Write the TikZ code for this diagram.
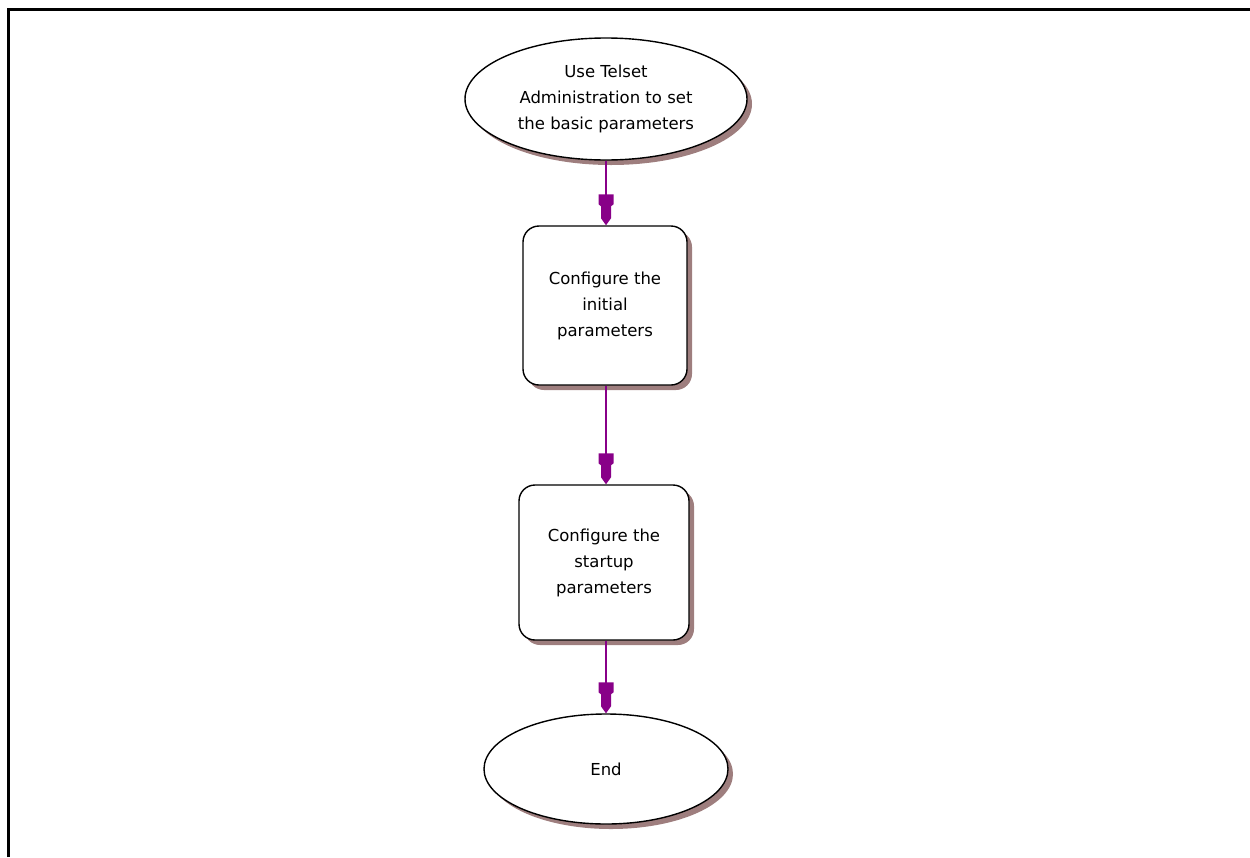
\documentclass[tikz,border=0pt]{standalone}
\usepackage{fontspec}
\setmainfont{DejaVu Sans}
\usetikzlibrary{shapes.geometric,arrows.meta,shadows}
\definecolor{shadowc}{HTML}{9E7E7E}
\definecolor{connc}{HTML}{880088}
\pgfdeclarearrow{
  name = flowtip,
  setup code = {
    \pgfarrowssettipend{0pt}
    \pgfarrowssetlineend{-20pt}
    \pgfarrowssetbackend{-31pt}
    \pgfarrowshullpoint{0pt}{0pt}
    \pgfarrowshullpoint{-31pt}{7.5pt}
    \pgfarrowshullpoint{-31pt}{-7.5pt}
  },
  drawing code = {
    \pgfpathmoveto{\pgfpoint{0pt}{0pt}}
    \pgfpathlineto{\pgfpoint{-7pt}{5pt}}
    \pgfpathlineto{\pgfpoint{-19pt}{5pt}}
    \pgfpathlineto{\pgfpoint{-21pt}{7.5pt}}
    \pgfpathlineto{\pgfpoint{-31pt}{7.5pt}}
    \pgfpathlineto{\pgfpoint{-31pt}{-7.5pt}}
    \pgfpathlineto{\pgfpoint{-21pt}{-7.5pt}}
    \pgfpathlineto{\pgfpoint{-19pt}{-5pt}}
    \pgfpathlineto{\pgfpoint{-7pt}{-5pt}}
    \pgfpathclose
    \pgfusepathqfill
  }
}
\begin{document}
\begin{tikzpicture}[x=1pt,y=-1pt,
  txt/.style={font=\fontsize{16.5}{26}\selectfont,align=center,text=black},
  oval/.style={ellipse,draw=black,line width=1.4pt,fill=white,inner sep=0pt,
    drop shadow={shadow xshift=5pt,shadow yshift=-5pt,fill=shadowc,opacity=1}},
  boxn/.style={rectangle,rounded corners=16pt,draw=black,line width=1.4pt,fill=white,inner sep=0pt,
    drop shadow={shadow xshift=5pt,shadow yshift=-5pt,fill=shadowc,opacity=1}},
  conn/.style={draw=connc,fill=connc,line width=2pt,-flowtip}
]
\useasboundingbox (0,0) rectangle (1250,857);
\draw[line width=3pt] (8.5,857) -- (8.5,9.5) -- (1250,9.5);
\node[oval,minimum width=282pt,minimum height=122pt] (start) at (606,99) {};
\node[txt] at (start.center) {Use Telset\\Administration to set\\the basic parameters};
\node[boxn,minimum width=164pt,minimum height=159pt] (init) at (605,305.5) {};
\node[txt] at (init.center) {Configure the\\initial\\parameters};
\node[boxn,minimum width=170pt,minimum height=155pt] (startup) at (604,562.5) {};
\node[txt] at (startup.center) {Configure the\\startup\\parameters};
\node[oval,minimum width=244pt,minimum height=110pt] (end) at (606,769) {};
\node[txt] at (end.center) {End};
\draw[conn] (start.south) -- (start.south |- init.north);
\draw[conn] (init.south -| start.south) -- (start.south |- startup.north);
\draw[conn] (startup.south -| start.south) -- (end.north);
\end{tikzpicture}
\end{document}
